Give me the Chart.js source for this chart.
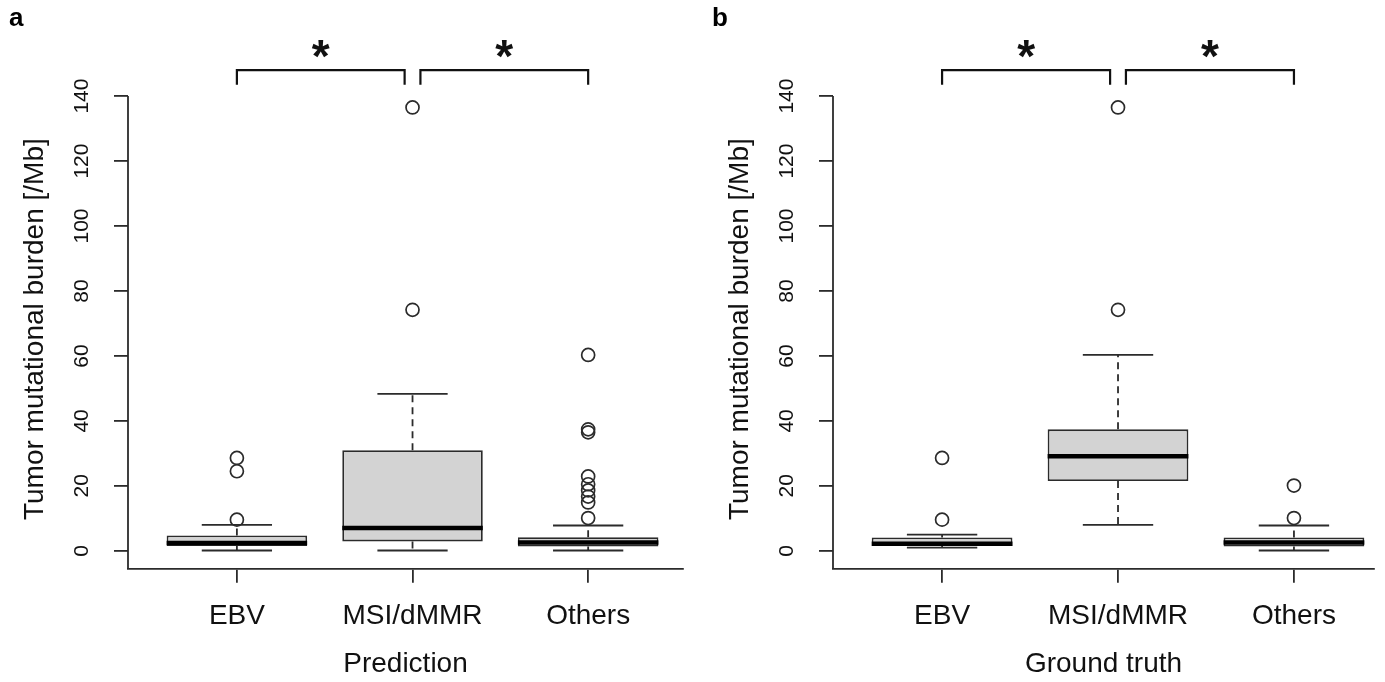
<!DOCTYPE html>
<html>
<head>
<meta charset="utf-8">
<script src="https://cdn.jsdelivr.net/npm/chart.js@4.4.1/dist/chart.umd.min.js"></script>
<style>
  html, body { margin: 0; padding: 0; background: #fff; }
  body { width: 1385px; height: 682px; position: relative; overflow: hidden; }
  .panel { position: absolute; top: 0; height: 682px; }
  #wrapA { left: 0; width: 700px; }
  #wrapB { left: 705px; width: 680px; }
</style>
</head>
<body>
<div class="panel" id="wrapA"><canvas id="chartA"></canvas></div>
<div class="panel" id="wrapB"><canvas id="chartB"></canvas></div>
<script>
// ---------- data ----------
const categories = ['EBV', 'MSI/dMMR', 'Others'];
const yTickValues = [0, 20, 40, 60, 80, 100, 120, 140];
const yAxisTitle = 'Tumor mutational burden [/Mb]';

// Panel a: Prediction
const predTitle = 'Prediction';
const predLow    = [0.1, 0.1, 0.1];
const predQ1     = [1.5, 2.9, 1.3];
const predMedian = [2.4, 7.0, 2.6];
const predQ3     = [4.7, 31.0, 4.2];
const predHigh   = [8.0, 48.3, 7.8];
const predOutliers = [
  [28.6, 24.5, 9.6],
  [136.5, 74.2],
  [60.3, 37.4, 36.5, 22.9, 20.5, 18.6, 16.7, 14.9, 10.1]
];

// Panel b: Ground truth
const truthTitle = 'Ground truth';
const truthLow    = [1.0, 8.0, 0.1];
const truthQ1     = [1.5, 21.5, 1.3];
const truthMedian = [2.2, 29.1, 2.6];
const truthQ3     = [4.1, 37.4, 4.1];
const truthHigh   = [5.0, 60.3, 7.8];
const truthOutliers = [
  [28.6, 9.6],
  [136.5, 74.2],
  [20.1, 10.1]
];

// significance brackets (category index pairs) and their labels
const comparisons = [[0, 1], [1, 2]];
const comparisonLabels = ['*', '*'];

// ---------- rendering ----------
const FONT = '"Liberation Sans", Arial, Helvetica, sans-serif';
const AXIS_COLOR = '#2b2b2b';
const LW = 1.8;

function boxPlugin(stats, letter) {
  return {
    id: 'rBox' + letter,
    beforeDatasetsDraw(chart) {
      const ctx = chart.ctx, xs = chart.scales.x, ys = chart.scales.y;
      ctx.save();
      ctx.strokeStyle = AXIS_COLOR;
      ctx.lineWidth = LW;
      categories.forEach((c, i) => {
        const x = xs.getPixelForValue(i + 1);
        ctx.setLineDash([7, 5]);
        ctx.beginPath();
        ctx.moveTo(x, ys.getPixelForValue(stats.q3[i]));
        ctx.lineTo(x, ys.getPixelForValue(stats.high[i]));
        ctx.moveTo(x, ys.getPixelForValue(stats.q1[i]));
        ctx.lineTo(x, ys.getPixelForValue(stats.low[i]));
        ctx.stroke();
        ctx.setLineDash([]);
        const xl = xs.getPixelForValue(i + 1 - 0.2), xr = xs.getPixelForValue(i + 1 + 0.2);
        ctx.beginPath();
        [stats.high[i], stats.low[i]].forEach(v => {
          const y = ys.getPixelForValue(v);
          ctx.moveTo(xl, y); ctx.lineTo(xr, y);
        });
        ctx.stroke();
      });
      ctx.restore();
    },
    afterDatasetsDraw(chart) {
      const ctx = chart.ctx, xs = chart.scales.x, ys = chart.scales.y;
      ctx.save();
      ctx.strokeStyle = '#000';
      ctx.lineWidth = 4.5;
      categories.forEach((c, i) => {
        const y = ys.getPixelForValue(stats.median[i]);
        ctx.beginPath();
        ctx.moveTo(xs.getPixelForValue(i + 1 - 0.4), y);
        ctx.lineTo(xs.getPixelForValue(i + 1 + 0.4), y);
        ctx.stroke();
      });
      ctx.restore();
    },
    afterDraw(chart) {
      const ctx = chart.ctx, xs = chart.scales.x, ys = chart.scales.y, area = chart.chartArea;
      ctx.save();
      // y axis line (from the top tick down to the bottom frame)
      ctx.strokeStyle = AXIS_COLOR;
      ctx.lineWidth = LW;
      ctx.beginPath();
      ctx.moveTo(area.left, ys.getPixelForValue(yTickValues[yTickValues.length - 1]));
      ctx.lineTo(area.left, area.bottom);
      ctx.stroke();
      // rotated y tick labels
      ctx.fillStyle = '#111';
      ctx.font = '21px ' + FONT;
      ctx.textAlign = 'center';
      ctx.textBaseline = 'middle';
      ys.ticks.forEach(t => {
        const y = ys.getPixelForValue(t.value);
        ctx.save();
        ctx.translate(area.left - 46, y);
        ctx.rotate(-Math.PI / 2);
        ctx.fillText(String(t.value), 0, 0);
        ctx.restore();
      });
      // significance brackets
      ctx.strokeStyle = '#111';
      ctx.lineWidth = 2.2;
      const yTop = ys.getPixelForValue(148), yBot = ys.getPixelForValue(143.5);
      const gap = 0.045;
      comparisons.forEach((pair, k) => {
        const a = pair[0] + 1 + (k > 0 ? gap : 0);
        const b = pair[1] + 1 - (k === 0 ? gap : 0);
        const xa = xs.getPixelForValue(a), xb = xs.getPixelForValue(b);
        ctx.beginPath();
        ctx.moveTo(xa, yBot); ctx.lineTo(xa, yTop); ctx.lineTo(xb, yTop); ctx.lineTo(xb, yBot);
        ctx.stroke();
        // star centered above the bracket
        ctx.font = 'bold 46px ' + FONT;
        ctx.textAlign = 'center';
        ctx.textBaseline = 'alphabetic';
        const m = ctx.measureText(comparisonLabels[k]);
        const cy = ys.getPixelForValue(154.5);
        const base = cy + (m.actualBoundingBoxAscent - m.actualBoundingBoxDescent) / 2;
        ctx.fillStyle = '#111';
        ctx.fillText(comparisonLabels[k], (xa + xb) / 2, base);
      });
      // panel letter
      ctx.font = 'bold 26px ' + FONT;
      ctx.textAlign = 'left';
      ctx.textBaseline = 'middle';
      ctx.fillStyle = '#000';
      ctx.fillText(letter, letter === 'a' ? 9 : 7, 19);
      ctx.restore();
    }
  };
}

function makeChart(canvasId, stats, outliers, title, letter, xMax, padRight) {
  const boxData = categories.map((c, i) => ({ x: i + 1, y: [stats.q1[i], stats.q3[i]] }));
  const outData = [];
  outliers.forEach((arr, i) => arr.forEach(v => outData.push({ x: i + 1, y: v })));
  return new Chart(document.getElementById(canvasId), {
    data: {
      datasets: [
        {
          type: 'bar',
          label: 'box',
          data: boxData,
          backgroundColor: '#d3d3d3',
          borderColor: AXIS_COLOR,
          borderWidth: LW,
          borderSkipped: false,
          categoryPercentage: 1.0,
          barPercentage: 0.8,
          order: 2
        },
        {
          type: 'scatter',
          label: 'outliers',
          data: outData,
          pointStyle: 'circle',
          pointRadius: 6.5,
          pointBorderWidth: 1.7,
          pointBackgroundColor: 'rgba(255,255,255,0)',
          pointBorderColor: AXIS_COLOR,
          order: 1
        }
      ]
    },
    options: {
      responsive: true,
      maintainAspectRatio: false,
      animation: false,
      events: [],
      layout: { padding: { top: 89.6, right: padRight, left: 0, bottom: 0 } },
      plugins: { legend: { display: false }, tooltip: { enabled: false } },
      scales: {
        x: {
          type: 'linear',
          offset: false,
          min: 0.38,
          max: xMax,
          afterBuildTicks: s => { s.ticks = categories.map((c, i) => ({ value: i + 1 })); },
          afterFit: s => { s.height = 113.3; },
          border: { display: true, color: AXIS_COLOR, width: LW },
          grid: { offset: false, drawOnChartArea: false, drawTicks: true, tickLength: 14, color: AXIS_COLOR, lineWidth: LW },
          ticks: {
            autoSkip: false,
            maxRotation: 0,
            padding: 17,
            color: '#111',
            font: { family: FONT, size: 28 },
            callback: v => categories[Math.round(v) - 1] || ''
          },
          title: { display: true, text: title, color: '#111', font: { family: FONT, size: 28 }, padding: { top: 0, bottom: 1 } }
        },
        y: {
          type: 'linear',
          min: -5.5,
          max: 142,
          afterBuildTicks: s => { s.ticks = yTickValues.map(v => ({ value: v })); },
          afterFit: s => { s.width = 128; },
          border: { display: false },
          grid: { drawOnChartArea: false, drawTicks: true, tickLength: 14, color: AXIS_COLOR, lineWidth: LW },
          ticks: { display: false },
          title: { display: true, text: yAxisTitle, color: '#111', font: { family: FONT, size: 28 }, padding: { top: 18, bottom: 0 } }
        }
      }
    },
    plugins: [boxPlugin(stats, letter)]
  });
}

makeChart('chartA',
  { low: predLow, q1: predQ1, median: predMedian, q3: predQ3, high: predHigh },
  predOutliers, predTitle, 'a', 3.54, 17);
makeChart('chartB',
  { low: truthLow, q1: truthQ1, median: truthMedian, q3: truthQ3, high: truthHigh },
  truthOutliers, truthTitle, 'b', 3.455, 11);
</script>
</body>
</html>
